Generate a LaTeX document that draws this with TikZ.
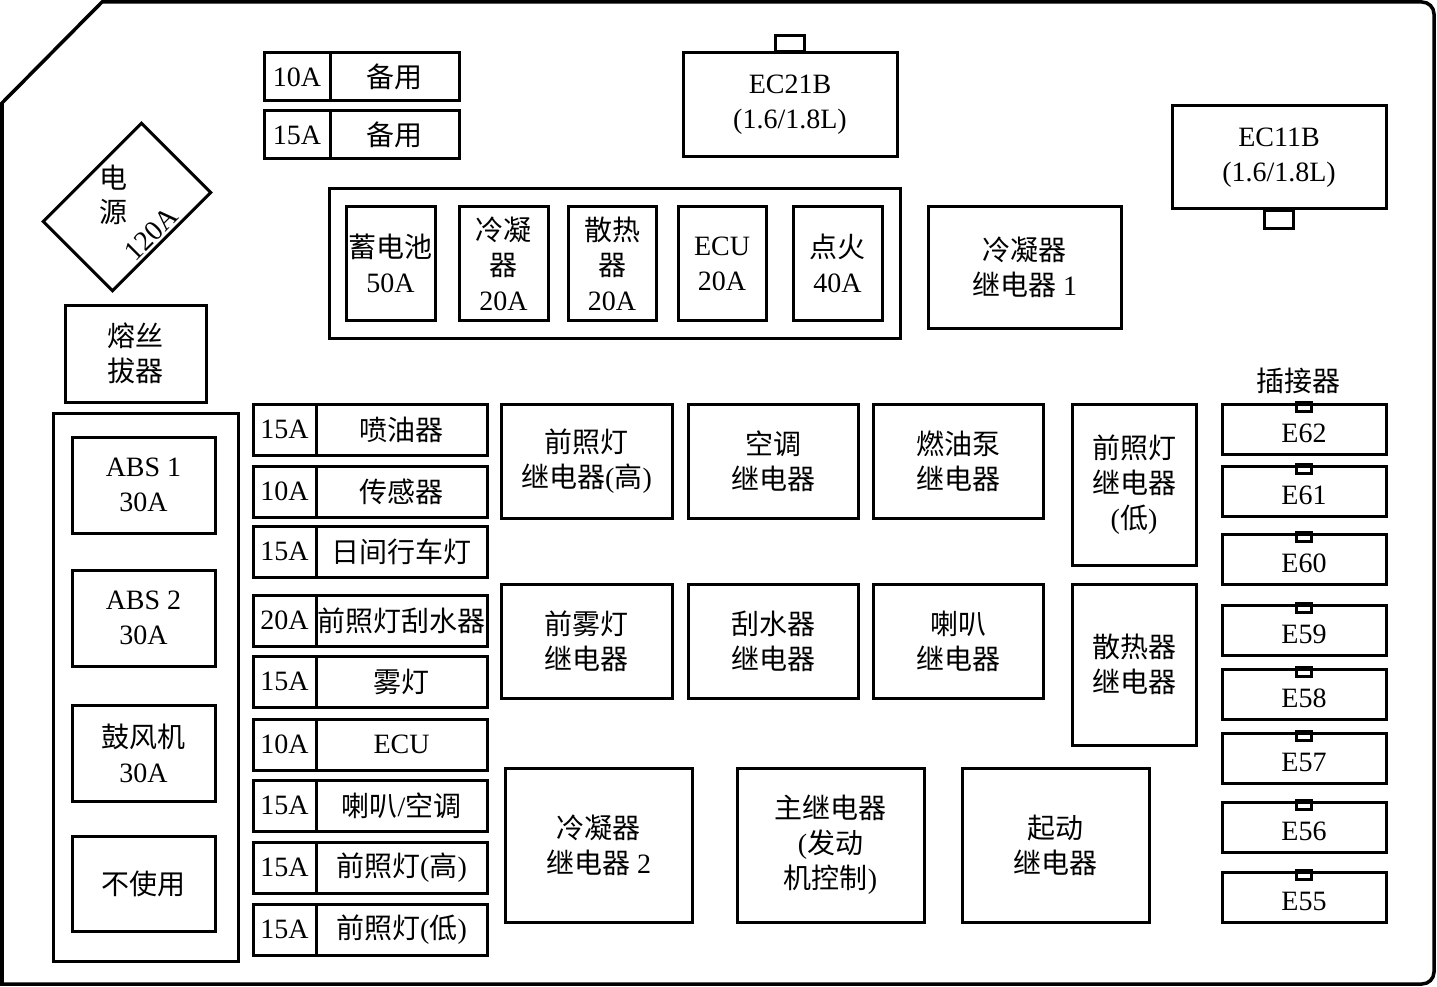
\documentclass[tikz,border=0pt]{standalone}
\usepackage{fontspec}
\setmainfont{Liberation Serif}
\newfontfamily\cjk{Noto Sans CJK SC}
\newcommand\zh[1]{{\cjk #1}}
\newcommand\fs{\fontsize{28}{35}\selectfont}
\usetikzlibrary{calc}
\newcommand\bx[6]{%
  \pgfmathsetmacro\bxcx{(#2+#4)/2}\pgfmathsetmacro\bxcy{(#3+#5)/2}%
  \pgfmathsetmacro\bxw{#4-#2}\pgfmathsetmacro\bxh{#5-#3}%
  \node[box, minimum width=\bxw pt, minimum height=\bxh pt] (#1) at (\bxcx,\bxcy) {#6};}
\newcommand\fz[5]{\bx{#1a}{253}{#2}{316}{#3}{#4}\bx{#1b}{316}{#2}{487}{#3}{#5}}
\newcommand\cn[3]{%
  \pgfmathsetmacro\cnyb{#2+50}%
  \bx{#1}{1222}{#2}{1386}{\cnyb}{\raisebox{-4pt}[\height][0pt]{#3}}%
  \draw[tab] ([xshift=-7.5pt]#1.north) rectangle ++(15,9);}
\begin{document}
\begin{tikzpicture}[x=1pt,y=-1pt,
  box/.style={draw, line width=3pt, inner sep=0pt, align=center, font=\fs},
  txt/.style={inner sep=0pt, align=center, font=\fs},
  frame/.style={draw, line width=3.5pt},
  tab/.style={draw, line width=2.5pt}]
\useasboundingbox (0,0) rectangle (1437,987);
% outer frame
\draw[frame] (2,984) -- (2,103) -- (102,2) -- (1422,2)
  arc[start angle=90,end angle=0,radius=12pt] -- (1434,972)
  arc[start angle=0,end angle=-90,radius=12pt] -- cycle;
% spare fuses
\bx{spa}{264}{53}{330}{101}{10A}
\bx{spb}{330}{53}{459}{101}{\zh{备用}}
\bx{spc}{264}{111}{330}{159}{15A}
\bx{spd}{330}{111}{459}{159}{\zh{备用}}
% power fuse diamond
\node[draw, line width=3pt, minimum width=139pt, minimum height=98pt, rotate=45, inner sep=0pt] (pw) at (127,207) {};
\node[txt] (pwa) at (113,178) {\zh{电}};
\node[txt] (pwb) at (113,212) {\zh{源}};
\node[txt, rotate=45] (pwc) at (151,234) {120A};
% puller
\bx{puller}{65}{305}{206}{402}{\zh{熔丝}\\\zh{拔器}}
% left block
\bx{leftbox}{53}{413}{238}{961}{}
\bx{absa}{72}{437}{215}{533}{ABS 1\\30A}
\bx{absb}{72}{570}{215}{666}{ABS 2\\30A}
\bx{blower}{72}{705}{215}{801}{\zh{鼓风机}\\30A}
\bx{unused}{72}{836}{215}{931}{\zh{不使用}}
% mini fuses
\fz{fa}{404}{455}{15A}{\zh{喷油器}}
\fz{fb}{466}{517}{10A}{\zh{传感器}}
\fz{fc}{526}{577}{15A}{\zh{日间行车灯}}
\fz{fd}{595}{646}{20A}{\zh{前照灯刮水器}}
\fz{fe}{656}{707}{15A}{\zh{雾灯}}
\fz{ff}{719}{770}{10A}{ECU}
\fz{fg}{780}{831}{15A}{\zh{喇叭}/\zh{空调}}
\fz{fh}{842}{893}{15A}{\zh{前照灯}(\zh{高})}
\fz{fi}{904}{955}{15A}{\zh{前照灯}(\zh{低})}
% maxi fuse block
\bx{maxi}{329}{189}{900}{338}{}
\bx{bat}{346}{207}{435}{320}{\zh{蓄电池}\\50A}
\bx{cond}{459}{207}{548}{320}{\fontsize{28}{34}\selectfont\zh{冷凝}\\\zh{器}\\20A}
\bx{rad}{568}{207}{656}{320}{\fontsize{28}{34}\selectfont\zh{散热}\\\zh{器}\\20A}
\bx{ecu}{678}{207}{766}{320}{ECU\\20A}
\bx{ign}{793}{207}{882}{320}{\zh{点火}\\40A}
\bx{cra}{928}{207}{1121}{328}{\zh{冷凝器}\\\zh{继电器} 1}
% connectors top
\bx{eca}{683}{53}{897}{157}{\fontsize{28}{38}\selectfont EC21B\\(1.6/1.8L)}
\draw[tab] ([xshift=-14.5pt]eca.north) rectangle ++(29,-16);
\bx{ecb}{1172}{106}{1386}{209}{\fontsize{28}{37}\selectfont EC11B\\(1.6/1.8L)}
\draw[tab] ([xshift=-14.5pt]ecb.south) rectangle ++(29,18);
% relays
\bx{hhi}{501}{404}{672}{518}{\zh{前照灯}\\\zh{继电器}(\zh{高})}
\bx{ac}{688}{404}{858}{518}{\zh{空调}\\\zh{继电器}}
\bx{fuel}{873}{404}{1043}{518}{\zh{燃油泵}\\\zh{继电器}}
\bx{hlo}{1072}{404}{1196}{565}{\zh{前照灯}\\\zh{继电器}\\(\zh{低})}
\bx{fog}{501}{584}{672}{698}{\zh{前雾灯}\\\zh{继电器}}
\bx{wiper}{688}{584}{858}{698}{\zh{刮水器}\\\zh{继电器}}
\bx{horn}{873}{584}{1043}{698}{\zh{喇叭}\\\zh{继电器}}
\bx{radr}{1072}{584}{1196}{745}{\zh{散热器}\\\zh{继电器}}
\bx{crb}{505}{768}{692}{922}{\zh{冷凝器}\\\zh{继电器} 2}
\bx{main}{737}{768}{924}{922}{\zh{主继电器}\\(\zh{发动}\\\zh{机控制})}
\bx{start}{962}{768}{1149}{922}{\zh{起动}\\\zh{继电器}}
% connectors right
\node[txt] (conlabel) at (1298,381) {\zh{插接器}};
\cn{ea}{404}{E62}
\cn{eb}{466}{E61}
\cn{ec}{534}{E60}
\cn{ed}{605}{E59}
\cn{ee}{669}{E58}
\cn{ef}{733}{E57}
\cn{eg}{802}{E56}
\cn{eh}{872}{E55}
\end{tikzpicture}
\end{document}
